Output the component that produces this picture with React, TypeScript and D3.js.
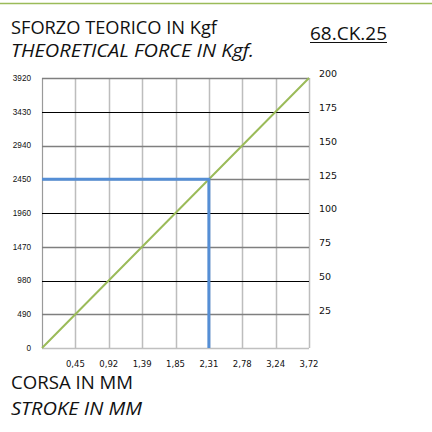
import React from "react";
import * as d3 from "d3";

const strokes = [0, 0.45, 0.92, 1.39, 1.85, 2.31, 2.78, 3.24, 3.72];
const forces = [0, 490, 980, 1470, 1960, 2450, 2940, 3430, 3920];
const rightTicks = [25, 50, 75, 100, 125, 150, 175, 200];
const markerStroke = 2.31;
const markerForce = 2450;

const W = 432;
const H = 432;
const X0 = 42, X1 = 309, Y0 = 78, Y1 = 348;

const fmt = (v: number) => v.toFixed(2).replace(".", ",");

export default function App() {
  const x = d3.scalePoint<number>().domain(strokes).range([X0, X1]);
  const y = d3.scaleLinear().domain([0, 3920]).range([Y1, Y0]);
  const yr = d3.scaleLinear().domain([0, 200]).range([Y1 - 4, Y0 - 4]);
  const line = d3
    .line<number>()
    .x((_, i) => x(strokes[i]) as number)
    .y((d) => y(d));

  const hColor2 = (v: number) => {
    if (v === 0) return "#c0c0c0";
    if (v === 3430 || v === 1960 || v === 980) return "#000000";
    return "#7f7f7f";
  };

  const mx = x(markerStroke) as number;
  const my = y(markerForce);

  const title = "'Open Sans', 'Liberation Sans', Arial, sans-serif";

  return (
    <svg
      width={W}
      height={H}
      style={{ position: "fixed", left: 0, top: 0, background: "#fff" }}
    >
      <rect x={0} y={0} width={W} height={H} fill="#fff" />
      <line x1={0} x2={W} y1={3.5} y2={3.5} stroke="#9bbb59" strokeWidth={1.5} />

      <text x={11} y={34} fontFamily={title} fontSize={17.5} fill="#111"
        textLength={206} lengthAdjust="spacingAndGlyphs">
        SFORZO TEORICO IN Kgf
      </text>
      <text x={11} y={57} fontFamily={title} fontSize={17.5} fontStyle="italic" fill="#111"
        textLength={243} lengthAdjust="spacingAndGlyphs">
        THEORETICAL FORCE  IN Kgf.
      </text>
      <text x={310} y={40} fontFamily={title} fontSize={17.5} fill="#111"
        textLength={77} lengthAdjust="spacingAndGlyphs">
        68.CK.25
      </text>
      <line x1={310} x2={387} y1={42.5} y2={42.5} stroke="#111" strokeWidth={1} />

      {/* vertical gridlines */}
      {strokes.map((s, i) => (
        <line
          key={"v" + i}
          x1={Math.round(x(s) as number) + 0.5}
          x2={Math.round(x(s) as number) + 0.5}
          y1={Y0}
          y2={Y1}
          stroke={i === 0 ? "#9a9a9a" : "#bdbdbd"}
          strokeWidth={i === 0 ? 1.2 : 1.5}
        />
      ))}
      {/* horizontal gridlines */}
      {forces.map((f, i) => (
        <line
          key={"h" + i}
          x1={X0}
          x2={X1}
          y1={Math.round(y(f)) + 0.5}
          y2={Math.round(y(f)) + 0.5}
          stroke={hColor2(f)}
          strokeWidth={hColor2(f) === "#000000" ? 1 : 1.5}
        />
      ))}

      {/* left ticks */}
      {forces.map((f, i) => (
        <text
          key={"l" + i}
          x={31}
          y={y(f)}
          dy="0.35em"
          textAnchor="end"
          fontFamily="'Liberation Sans', Arial, sans-serif"
          fontSize={8.2}
          fill="#111"
        >
          {f}
        </text>
      ))}
      {/* right ticks */}
      {rightTicks.map((t, i) => (
        <text
          key={"r" + i}
          x={319}
          y={yr(t)}
          dy="0.35em"
          fontFamily="'DejaVu Sans', Verdana, sans-serif"
          fontSize={9.5}
          fill="#111"
        >
          {t}
        </text>
      ))}
      {/* x ticks */}
      {strokes.slice(1).map((s, i) => (
        <text
          key={"x" + i}
          x={x(s) as number}
          y={367}
          textAnchor="middle"
          fontFamily="'DejaVu Sans', Verdana, sans-serif"
          fontSize={8.5}
          fill="#111"
        >
          {fmt(s)}
        </text>
      ))}

      {/* green line */}
      <path d={line(forces) as string} fill="none" stroke="#9bbb59" strokeWidth={2} />

      {/* blue marker */}
      <path
        d={`M${X0},${my}H${mx}V${Y1}`}
        fill="none"
        stroke="#558ed5"
        strokeWidth={3}
      />

      <text x={11} y={389} fontFamily={title} fontSize={17.5} fill="#111"
        textLength={122} lengthAdjust="spacingAndGlyphs">
        CORSA IN MM
      </text>
      <text x={11} y={415} fontFamily={title} fontSize={17.5} fontStyle="italic" fill="#111"
        textLength={131} lengthAdjust="spacingAndGlyphs">
        STROKE IN MM
      </text>
    </svg>
  );
}
